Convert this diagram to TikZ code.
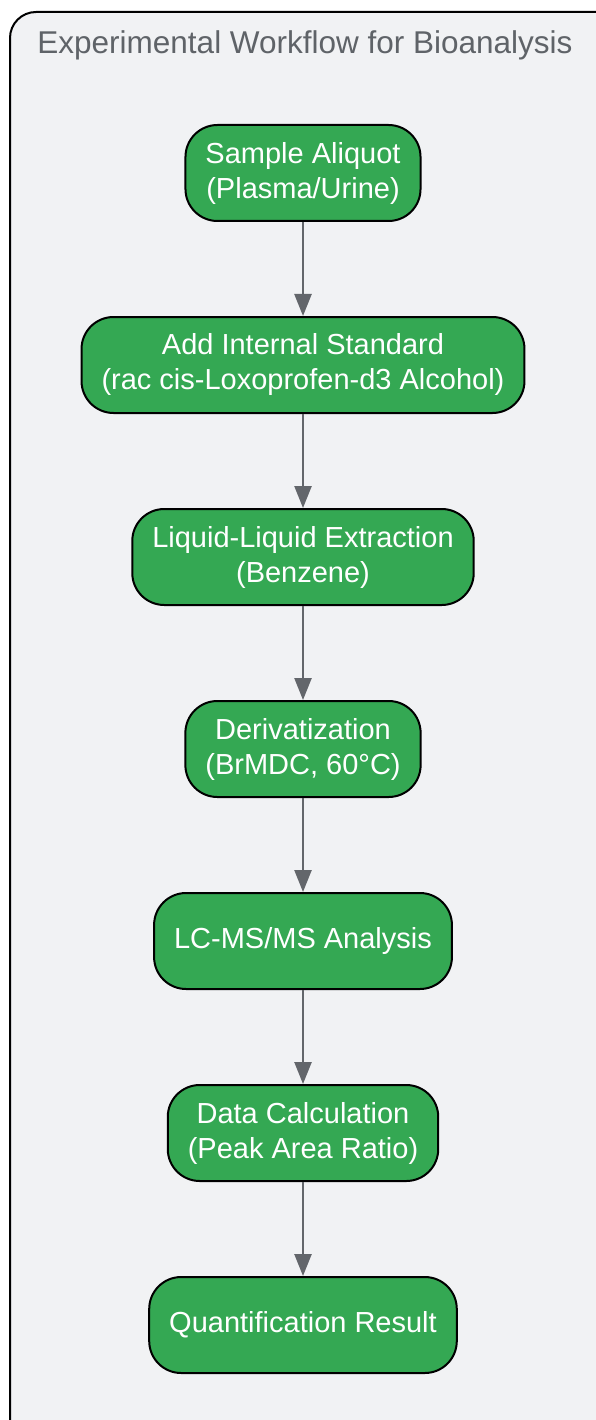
\documentclass[tikz,border=0pt]{standalone}
\usepackage{fontspec}
\setmainfont{Liberation Sans}
\usetikzlibrary{positioning, arrows.meta}
\definecolor{stepgreen}{HTML}{34A853}
\definecolor{panelgray}{HTML}{F1F2F4}
\definecolor{linegray}{HTML}{63666B}
\definecolor{titlegray}{HTML}{5F6368}

\begin{document}
\begin{tikzpicture}[
    x=1pt, y=-1pt,
    stepbox/.style={rectangle, rounded corners=32pt, minimum height=96pt, inner xsep=20pt, align=center, text centered, draw=black, line width=2pt, fill=stepgreen, text=white, font=\fontsize{29}{35}\selectfont},
    arrow/.style={draw=linegray, line width=2.5pt, -{Triangle[length=22pt, width=17pt]}},
    node distance=94pt,
]
\useasboundingbox (0,0) rectangle (596,1420);

% Panel
\draw[fill=panelgray, draw=black, line width=2pt, rounded corners=26pt] (10,12) rectangle (640,1460);
\node[text=titlegray, font=\fontsize{31.5}{36}\selectfont] (title) at (305,45) {Experimental Workflow for Bioanalysis};

% Sample
\node[stepbox] (sample) at (303,173) {Sample Aliquot\\(Plasma/Urine)};

% Internal standard
\node[stepbox, below=of sample] (istd) {Add Internal Standard\\(rac cis-Loxoprofen-d3 Alcohol)};

% Extraction
\node[stepbox, below=of istd] (lle) {Liquid-Liquid Extraction\\(Benzene)};

% Derivatization
\node[stepbox, below=of lle] (deriv) {Derivatization\\(BrMDC, 60°C)};

% LC-MS/MS
\node[stepbox, below=of deriv] (lcms) {LC-MS/MS Analysis};

% Calculation
\node[stepbox, below=of lcms] (calc) {Data Calculation\\(Peak Area Ratio)};

% Result
\node[stepbox, below=of calc] (result) {Quantification Result};

% Draw the arrows
\draw[arrow] (sample) -- (istd);
\draw[arrow] (istd) -- (lle);
\draw[arrow] (lle) -- (deriv);
\draw[arrow] (deriv) -- (lcms);
\draw[arrow] (lcms) -- (calc);
\draw[arrow] (calc) -- (result);

\end{tikzpicture}
\end{document}
